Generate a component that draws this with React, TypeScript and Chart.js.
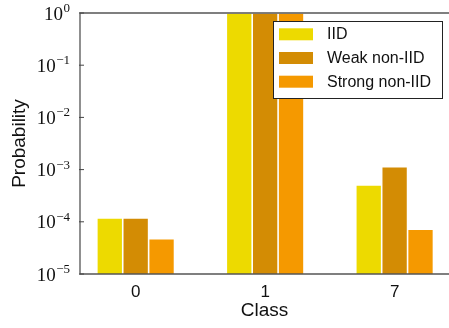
import React, { useEffect, useRef } from 'react';
import { Chart, registerables } from 'chart.js';

Chart.register(...registerables);

const categories = ['0', '1', '7'];
const seriesLabels = ['IID', 'Weak non-IID', 'Strong non-IID'];
const iidValues = [1.18e-4, 1.0, 5.1e-4];
const weakValues = [1.18e-4, 1.0, 1.14e-3];
const strongValues = [4.73e-5, 1.0, 7.24e-5];
const seriesColors = ['#EDDA00', '#D38C04', '#F59900'];
const yTickExponents = [0, -1, -2, -3, -4, -5];
const yAxisTitle = 'Probability';
const xAxisTitle = 'Class';

const SANS = '"Liberation Sans", Arial, Helvetica, sans-serif';
const SERIF = '"Liberation Serif", "DejaVu Serif", serif';

const decorPlugin = {
  id: 'decor',
  afterDatasetsDraw(chart: any) {
    const { ctx, chartArea: ca } = chart;
    const yScale = chart.scales.y;
    ctx.save();
    // spines
    ctx.strokeStyle = '#555';
    ctx.lineWidth = 1.3;
    ctx.beginPath();
    ctx.moveTo(ca.right + 1, ca.top);
    ctx.lineTo(ca.left, ca.top);
    ctx.lineTo(ca.left, ca.bottom);
    ctx.lineTo(ca.right + 1, ca.bottom);
    ctx.stroke();
    // y ticks and labels
    ctx.fillStyle = '#111';
    ctx.textBaseline = 'alphabetic';
    ctx.textAlign = 'left';
    for (const e of yTickExponents) {
      const y = yScale.getPixelForValue(Math.pow(10, e));
      ctx.strokeStyle = '#444';
      ctx.lineWidth = 1;
      ctx.beginPath();
      ctx.moveTo(ca.left - 1, y);
      ctx.lineTo(ca.left + 4, y);
      ctx.stroke();
      const expStr = e === 0 ? '0' : '\u2212' + Math.abs(e);
      ctx.font = '19px ' + SERIF;
      const w1 = ctx.measureText('10').width;
      ctx.font = '13px ' + SERIF;
      const w2 = ctx.measureText(expStr).width;
      const right = 70;
      const x0 = right - w2 - w1 - 0.5;
      ctx.font = '19px ' + SERIF;
      ctx.fillText('10', x0, y + 6.5);
      ctx.font = '13px ' + SERIF;
      ctx.fillText(expStr, x0 + w1 + 0.5, y - 1);
    }
    // legend
    const lx = 273, ly = 21, lw = 169, lh = 77;
    ctx.fillStyle = '#fff';
    ctx.fillRect(lx, ly, lw, lh);
    ctx.strokeStyle = '#222';
    ctx.lineWidth = 1;
    ctx.strokeRect(lx + 0.5, ly + 0.5, lw, lh);
    ctx.font = '16px ' + SANS;
    ctx.textBaseline = 'middle';
    chart.data.datasets.forEach((ds: any, i: number) => {
      const sy = 28.3 + i * 23.7;
      ctx.fillStyle = ds.backgroundColor;
      ctx.fillRect(279, sy, 34, 12);
      ctx.fillStyle = '#111';
      ctx.fillText(ds.label, 327, sy + 6.5);
    });
    ctx.restore();
  },
};

export default function App() {
  const canvasRef = useRef<HTMLCanvasElement | null>(null);

  useEffect(() => {
    if (!canvasRef.current) return;
    const series = [iidValues, weakValues, strongValues];
    const chart = new Chart(canvasRef.current, {
      type: 'bar',
      data: {
        datasets: series.map((vals, si) => ({
          label: seriesLabels[si],
          data: vals.map((v, i) => ({ x: i, y: v })),
          backgroundColor: seriesColors[si],
          borderColor: 'rgba(255,255,255,0.45)',
          borderWidth: 0.8,
          categoryPercentage: 0.6,
          barPercentage: 1.0,
        })),
      },
      options: {
        responsive: false,
        animation: false,
        events: [],
        layout: { padding: { top: 13, left: 0, right: 0, bottom: 0 } },
        plugins: {
          legend: { display: false },
          tooltip: { enabled: false },
        },
        scales: {
          x: {
            type: 'linear',
            min: -0.43,
            max: 2.42,
            offset: false,
            grid: { display: false, drawTicks: false, offset: false },
            border: { display: false },
            afterBuildTicks: (s: any) => {
              s.ticks = categories.map((_, i) => ({ value: i }));
            },
            afterFit: (s: any) => {
              s.height = 54;
            },
            ticks: {
              autoSkip: false,
              color: '#111',
              padding: 8,
              font: { family: SANS, size: 17 },
              callback: (v: any) => categories[Number(v)] ?? '',
            },
            title: {
              display: true,
              text: xAxisTitle,
              color: '#111',
              font: { family: SANS, size: 19 },
              padding: { top: 0, bottom: 5.5 },
            },
          },
          y: {
            type: 'logarithmic',
            min: 1e-5,
            max: 1,
            grid: { display: false },
            border: { display: false },
            ticks: { display: false },
            afterFit: (s: any) => {
              s.width = 80;
            },
            title: {
              display: true,
              text: yAxisTitle,
              color: '#111',
              font: { family: SANS, size: 19 },
              padding: { top: 8, bottom: 0 },
            },
          },
        },
      } as any,
      plugins: [decorPlugin],
    });
    return () => chart.destroy();
  }, []);

  return (
    <div style={{ position: 'absolute', left: 0, top: 0, width: 449, height: 328, background: '#fff' }}>
      <canvas ref={canvasRef} width={449} height={328} style={{ display: 'block' }} />
    </div>
  );
}
